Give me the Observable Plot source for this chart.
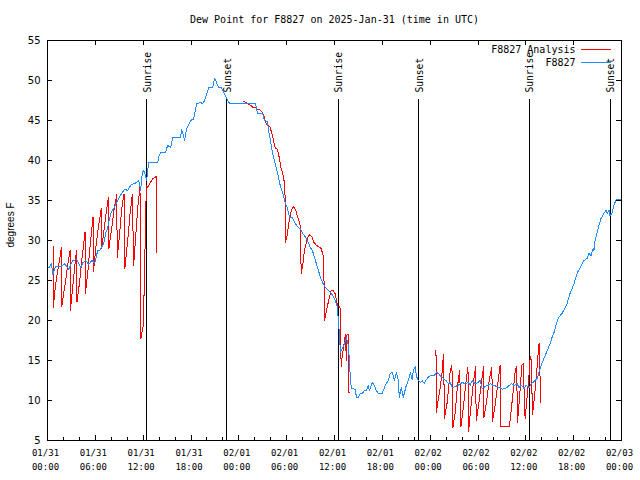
<!DOCTYPE html>
<html><head><meta charset="utf-8">
<script src="https://cdn.jsdelivr.net/npm/d3@7"></script>
<script src="https://cdn.jsdelivr.net/npm/@observablehq/plot@0.6"></script>
<style>body{margin:0;background:#fff} #chart svg{shape-rendering:crispEdges}</style>
</head><body><div id="chart"></div>
<script>
// ---- data (hours since 2025-01-31 00:00 UTC, dew point in °F) ----
const obsHours = [0.16,0.5,0.66,1.0,1.6,2.17,2.67,3.17,3.67,4.17,4.42,4.80,5.17,5.55,5.93,6.30,6.55,7.05,7.30,7.55,7.93,8.31,8.68,8.93,9.31,9.68,10.06,10.43,10.81,11.19,11.44,11.69,11.81,12.0,12.19,12.44,12.69,13.82,13.94,14.19,14.82,15.07,15.44,15.70,16.70,16.82,16.95,17.20,17.45,17.95,18.33,18.70,19.20,19.45,19.70,20.21,20.71,20.83,20.96,21.21,21.46,21.83,22.33,22.71,22.96,26.09,26.34,26.97,27.22,27.60,27.72,27.97,28.22,28.47,28.72,28.97,29.22,29.60,29.85,30.10,30.35,30.73,30.98,31.23,31.48,31.73,31.98,32.23,32.61,32.98,33.23,33.48,33.73,33.98,34.24,34.49,34.86,35.24,35.61,36.11,36.36,36.61,36.74,36.99,37.24,37.50,37.74,37.87,38.0,38.12,38.62,38.74,38.99,39.25,39.50,39.75,40.00,40.25,40.37,40.50,40.75,41.00,41.25,41.50,42.00,42.25,42.50,42.75,43.00,43.25,43.50,43.75,44.00,44.13,44.38,44.63,45.01,45.26,45.51,45.76,45.88,46.13,46.26,46.51,46.76,47.01,47.26,47.51,47.76,48.01,48.51,48.76,49.01,49.26,49.51,49.77,50.02,50.27,50.52,50.77,51.14,51.52,52.02,52.40,52.77,53.02,53.27,53.65,54.02,54.27,54.52,54.90,55.28,55.53,55.90,56.40,56.78,57.03,57.40,57.78,58.16,58.53,58.91,59.16,59.41,59.79,60.04,60.41,60.66,60.92,61.17,61.42,61.54,61.67,61.92,62.17,62.42,62.79,63.04,63.29,63.54,63.79,64.05,64.30,64.55,64.92,65.17,65.55,65.80,66.05,66.43,66.80,67.05,67.30,67.68,67.93,68.18,68.43,68.55,68.68,68.93,69.18,69.43,69.81,70.06,70.19,70.44,70.56,70.81,71.06,71.31,71.94];
const obsDew = [26.6,27.1,25.7,26.7,26.7,27.1,26.4,27.5,27.6,26.6,27.2,27.5,27.0,27.5,27.2,28.75,28.75,29.6,30.9,31.6,33.4,34.0,34.75,35.25,35.9,36.4,36.25,36.9,37.1,37.25,37.5,36.25,37.9,38.75,38.5,37.5,39.75,39.75,40.4,41.0,41.0,41.9,41.6,42.9,42.9,43.9,43.5,42.5,44.0,45.0,45.2,47.1,47.25,47.1,47.5,49.1,49.1,49.6,50.25,49.75,49.1,49.1,48.1,47.25,47.1,47.1,45.9,45.9,45.0,44.9,43.75,42.5,41.0,40.0,39.0,37.9,36.75,35.6,34.6,34.0,32.9,32.9,32.25,31.9,31.6,31.5,30.9,30.6,30.0,29.1,28.75,27.9,27.1,26.25,25.4,24.75,24.1,23.75,23.4,22.5,21.6,18.4,16.0,16.5,17.1,17.9,16.9,15.0,12.5,11.5,11.4,10.4,10.4,10.9,10.9,11.25,11.25,11.9,11.25,11.6,12.25,11.9,11.25,10.9,10.9,11.6,12.1,12.5,13.4,13.5,12.5,13.5,12.5,10.4,11.6,10.4,11.9,12.5,13.5,12.6,13.75,14.25,13.1,12.5,12.25,12.5,12.1,12.6,12.9,13.1,13.1,13.5,13.4,13.1,12.9,12.6,12.5,12.1,12.25,11.6,11.75,11.9,12.25,12.1,12.25,11.9,12.5,12.1,12.25,12.5,11.5,11.75,11.9,12.1,11.9,11.75,11.6,11.4,11.5,11.75,12.1,11.9,12.1,11.6,11.9,11.5,11.9,11.6,12.1,12.25,12.5,12.75,13.1,13.6,14.4,15.0,15.6,16.5,17.1,17.9,18.5,19.4,20.25,20.6,20.9,21.6,22.1,23.4,24.0,24.6,25.9,26.6,27.1,27.5,27.75,28.4,28.1,29.0,28.75,30.0,30.9,31.9,32.75,33.4,33.75,33.4,33.75,33.1,33.4,34.4,35.1,35.1];

const anaHours = [0.70,0.72,0.91,1.16,1.42,1.75,1.78,2.04,2.29,2.54,2.83,2.86,3.04,3.29,3.63,3.70,4.05,4.30,4.71,4.75,5.05,5.36,5.71,5.76,6.05,6.36,6.74,6.78,7.05,7.37,7.64,7.70,8.05,8.37,8.68,8.75,9.06,9.31,9.60,9.70,10.06,10.37,10.65,10.80,11.06,11.31,11.60,11.70,12.03,12.19,12.40,12.56,12.69,13.19,13.65,13.70,null,
 24.63,25.13,25.47,25.80,26.09,26.31,26.60,26.93,27.13,27.35,27.56,27.88,28.18,28.38,28.60,28.85,29.06,29.31,29.64,29.81,29.85,30.06,30.26,30.48,30.69,30.89,31.10,31.32,31.52,31.73,31.82,32.07,32.23,32.48,32.64,32.90,33.20,33.40,33.73,34.02,34.32,34.65,34.74,34.99,35.27,35.58,35.86,36.11,36.24,36.40,36.65,36.74,36.83,36.99,37.15,37.37,37.49,37.57,37.74,37.82,null,
 48.73,48.76,49.06,49.27,49.48,49.61,49.68,49.80,50.11,50.31,50.52,50.73,50.85,51.14,51.39,51.71,51.86,52.15,52.40,52.74,52.82,53.09,53.40,53.69,53.78,54.09,54.40,54.69,54.74,55.09,55.40,55.74,55.82,56.16,56.47,56.78,56.82,57.95,58.04,58.35,58.67,58.85,58.95,59.22,59.50,59.66,59.91,60.16,60.35,60.52,60.64,60.85,61.14,61.43,61.60,61.68,61.86];
const anaDew = [29.25,21.6,23.5,25.5,27.0,29.1,21.7,23.5,25.0,27.0,28.75,21.2,23.0,25.5,28.75,22.3,25.0,27.5,31.1,23.4,26.0,29.5,32.9,26.1,29.0,31.5,34.0,29.0,31.0,33.5,35.4,29.0,31.5,34.0,35.7,27.9,31.0,34.0,35.8,26.5,30.0,33.5,35.8,26.9,30.5,34.0,36.75,17.7,19.5,27.0,36.9,36.6,36.9,37.7,38.0,28.5,null,
 47.4,47.1,46.9,46.6,46.6,46.4,46.4,46.0,45.6,44.8,44.4,44.25,43.3,42.3,41.5,41.4,40.4,39.0,37.9,35.4,29.8,30.6,32.1,33.3,34.0,34.2,33.9,33.1,32.5,31.7,25.8,27.3,28.75,29.8,30.4,30.75,30.4,29.8,29.4,29.2,29.0,27.9,20.0,21.25,22.5,23.75,23.75,23.3,22.5,21.7,21.7,21.5,14.2,15.8,16.7,18.3,15.0,18.3,18.3,11.0,null,
 16.25,8.5,10.4,11.7,13.3,15.1,15.75,7.8,9.6,11.5,13.75,14.4,6.6,8.5,11.5,13.8,6.75,9.0,11.5,14.2,6.1,9.0,12.0,14.2,7.5,9.5,12.0,14.2,7.9,10.0,12.5,14.2,7.4,9.5,12.0,14.4,6.7,6.7,7.7,10.5,13.75,14.2,7.3,10.5,14.4,14.6,7.7,10.5,12.5,15.0,15.5,8.3,11.0,14.4,16.7,17.2,9.8];

const sunLabels = ["Sunrise","Sunset","Sunrise","Sunset","Sunrise","Sunset"];
const sunTimes = ["2025-01-31T12:26Z","2025-01-31T22:30Z","2025-02-01T12:29Z","2025-02-01T22:33Z","2025-02-02T12:27Z","2025-02-02T22:36Z"];
const yTicks = [5,10,15,20,25,30,35,40,45,50,55];
const seriesNames = ["F8827 Analysis","F8827"];
const seriesColors = ["#ff0000","#1e8cff"];
const titleText = "Dew Point for F8827 on 2025-Jan-31 (time in UTC)";
const yLabel = "degrees F";

// ---- build ----
const t0 = Date.UTC(2025,0,31);
const toDate = h => h == null ? null : new Date(t0 + h*3600000);
const obs = obsHours.map((h,i) => ({t: toDate(h), v: obsDew[i]}));
const ana = anaHours.map((h,i) => ({t: toDate(h), v: anaDew[i] == null ? NaN : anaDew[i]}));
const sun = sunTimes.map((s,i) => ({t: new Date(s), label: sunLabels[i]}));
const xStart = new Date(t0), xEnd = new Date(t0 + 72*3600000);
const xMajor = d3.utcHour.every(6).range(xStart, new Date(+xEnd + 1));
const xMinor = d3.utcHour.every(2).range(xStart, new Date(+xEnd + 1));
const fmt = d3.utcFormat("%m/%d\n%H:%M");

const W = 640, H = 480, mL = 47, mR = 19, mT = 40, mB = 40;
const pw = W - mL - mR, ph = H - mT - mB;
const lineShape = {draw(ctx, l){ ctx.moveTo(0,0); ctx.lineTo(0,-l); }};

const chart = Plot.plot({
  width: W, height: H,
  marginLeft: mL, marginRight: mR, marginTop: mT, marginBottom: mB,
  style: {fontFamily: "DejaVu Sans Mono", fontSize: "10px", background: "#fff", color: "#000"},
  x: {type: "utc", domain: [xStart, xEnd]},
  y: {domain: [5, 55]},
  marks: [
    Plot.frame({stroke: "#000"}),
    // inward ticks
    Plot.tickX(xMinor, {x: d => d, insetTop: ph - 3, stroke: "#000"}),
    Plot.tickX(xMajor, {x: d => d, insetTop: ph - 5, stroke: "#000"}),
    Plot.tickX(xMajor, {x: d => d, insetBottom: ph - 5, stroke: "#000"}),
    Plot.tickY(yTicks, {y: d => d, insetRight: pw - 5, stroke: "#000"}),
    Plot.tickY(yTicks, {y: d => d, insetLeft: pw - 5, stroke: "#000"}),
    Plot.axisX({ticks: xMajor, tickSize: 0, tickPadding: 5, tickFormat: fmt, fontSize: 9, lineHeight: 1.6, dx: -2, label: null}),
    Plot.axisY({ticks: yTicks, tickSize: 0, tickPadding: 7, label: null, fontFamily: "DejaVu Sans", fontSize: 10}),
    // sunrise / sunset
    Plot.ruleX(sun, {x: "t", insetTop: 59, stroke: "#000"}),
    Plot.text(sun, {x: "t", text: "label", frameAnchor: "top", rotate: -90, textAnchor: "start", lineAnchor: "middle", dy: 52, dx: 1, fontSize: 9.6}),
    // series
    Plot.line(ana, {x: "t", y: "v", stroke: seriesColors[0], strokeWidth: 1}),
    Plot.line(obs, {x: "t", y: "v", stroke: seriesColors[1], strokeWidth: 1}),
    // legend
    Plot.text([seriesNames[0]], {text: d => d, frameAnchor: "top-right", textAnchor: "end", lineAnchor: "middle", dx: -46, dy: 9, fontSize: 10}),
    Plot.text([seriesNames[1]], {text: d => d, frameAnchor: "top-right", textAnchor: "end", lineAnchor: "middle", dx: -46, dy: 22, fontSize: 10}),
    Plot.vector([0], {frameAnchor: "top-right", dx: -11, dy: 9, rotate: 270, length: 29, anchor: "start", shape: lineShape, stroke: seriesColors[0]}),
    Plot.vector([0], {frameAnchor: "top-right", dx: -11, dy: 22, rotate: 270, length: 29, anchor: "start", shape: lineShape, stroke: seriesColors[1]}),
    // title & y label
    Plot.text([titleText], {text: d => d, frameAnchor: "top", lineAnchor: "middle", dy: -21, fontSize: 10}),
    Plot.text([yLabel], {text: d => d, frameAnchor: "left", lineAnchor: "middle", dx: -37, dy: 7, rotate: -90, fontFamily: "Liberation Sans", fontSize: 10})
  ]
});
document.getElementById("chart").append(chart);
</script>
</body></html>
